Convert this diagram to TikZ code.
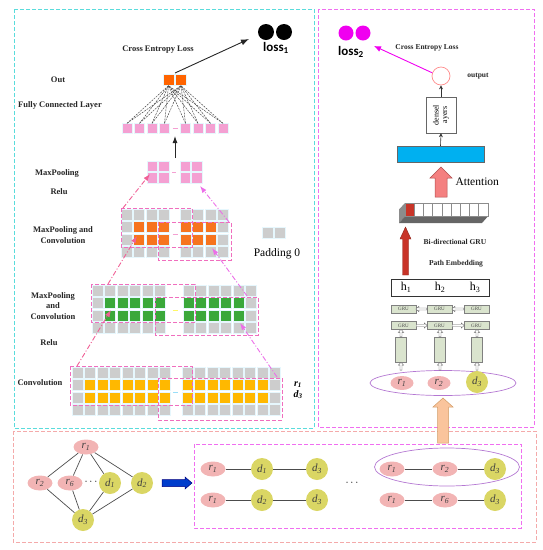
\documentclass[tikz,border=0pt]{standalone}
\usepackage{fontspec}
\setmainfont{Liberation Serif}
\newfontfamily\lossfont{Carlito}
\usetikzlibrary{arrows.meta,shapes.geometric}
\definecolor{cellgray}{RGB}{205,205,205}
\definecolor{cellpink}{RGB}{244,160,210}
\definecolor{cellorange}{RGB}{246,116,30}
\definecolor{outorange}{RGB}{255,100,0}
\definecolor{cellgreen}{RGB}{58,168,58}
\definecolor{cellyellow}{RGB}{255,184,0}
\definecolor{winpink}{RGB}{240,110,190}
\definecolor{arrowpink}{RGB}{240,96,150}
\definecolor{arrowviolet}{RGB}{236,110,232}
\definecolor{nodepink}{RGB}{242,180,180}
\definecolor{nodeyellow}{RGB}{218,214,100}
\definecolor{barblue}{RGB}{0,176,240}
\definecolor{grugreen}{RGB}{218,228,206}
\definecolor{peach}{RGB}{250,196,156}
\definecolor{attnred}{RGB}{244,128,128}
\definecolor{embred}{RGB}{200,52,40}
\definecolor{lossmagenta}{RGB}{240,0,240}
\definecolor{pathpurple}{RGB}{180,120,210}
\definecolor{framecyan}{RGB}{90,220,220}
\definecolor{framemagenta}{RGB}{240,110,240}
\definecolor{framesalmon}{RGB}{244,170,170}
\tikzset{
  lbl/.style={font=\bfseries\fontsize{8.5}{10.5}\selectfont, align=center, text=black!85},
  cell/.style={draw=cyan!10, line width=0.4pt},
  win/.style={draw=winpink, dash pattern=on 4pt off 2pt, line width=0.6pt},
  frame/.style={dash pattern=on 4pt off 2pt, line width=0.8pt},
  fcsq/.style={rectangle, fill=cellpink, draw=cyan!10, minimum size=10pt, inner sep=0pt},
  outsq/.style={rectangle, fill=outorange, draw=cyan!10, minimum size=11pt, inner sep=0pt},
  fclink/.style={draw=black!75, line width=0.45pt, dash pattern=on 2pt off 1pt},
  upleft/.style={draw=arrowpink, line width=0.9pt, dash pattern=on 5pt off 2pt on 1pt off 2pt, -{Latex[length=7pt,width=5pt]}},
  upright/.style={draw=arrowviolet, line width=0.9pt, dash pattern=on 5pt off 2pt on 1pt off 2pt, -{Latex[length=7pt,width=5pt]}},
  rnode/.style={ellipse, fill=nodepink, minimum width=25pt, minimum height=15pt, inner sep=0pt, font=\itshape\fontsize{11}{12}\selectfont, text=black!75},
  dnode/.style={circle, fill=nodeyellow, minimum size=22pt, inner sep=0pt, font=\itshape\fontsize{11}{12}\selectfont, text=black!75},
  link/.style={draw=black!70, line width=0.7pt},
  grubox/.style={rectangle, draw=black!50, fill=grugreen, minimum width=25pt, minimum height=8pt, inner sep=0pt, font=\fontsize{5}{5}\selectfont, text=black!70},
  tallbox/.style={rectangle, draw=black!50, fill=grugreen, minimum width=11pt, minimum height=25pt, inner sep=0pt},
  thinarrow/.style={draw=black!80, line width=0.6pt, -{Stealth[length=4pt,width=4pt]}},
  pics/hollow/.style={code={
    \draw[black!60, fill=white, line width=0.4pt] (0,-1) -- (#1-3,-1) -- (#1-3,-2.6) -- (#1,0) -- (#1-3,2.6) -- (#1-3,1) -- (0,1) -- cycle;}},
}
\begin{document}
\begin{tikzpicture}[x=1pt,y=-1pt]
\useasboundingbox (0,0) rectangle (543,550);

% panels
\draw[frame, framecyan] (14,9) rectangle (314,428);
\draw[frame, framemagenta] (318,9) rectangle (534,427);
\draw[frame, framesalmon] (13,431) rectangle (536,542);
\draw[frame, framemagenta, line width=0.7pt] (194,444) rectangle (521,528);

% left labels
\node[lbl] (celoss) at (158,50) {Cross Entropy Loss};
\node[lbl] (outlbl) at (58,80) {Out};
\node[lbl] (fclbl) at (60,105) {Fully Connected Layer};
\node[lbl] (mplbl) at (57,173) {MaxPooling};
\node[lbl] (relua) at (59,192) {Relu};
\node[lbl] (mpclbl) at (63,235) {MaxPooling and\\Convolution};
\node[lbl] (mpclblb) at (53,306) {MaxPooling\\and\\Convolution};
\node[lbl] (relub) at (49,343) {Relu};
\node[lbl] (convlbl) at (40,383) {Convolution};

% loss 1
\node[circle, fill=black, minimum size=16pt, inner sep=0pt] (dota) at (266,32) {};
\node[circle, fill=black, minimum size=16pt, inner sep=0pt] (dotb) at (284,32) {};
\node[font=\lossfont\bfseries\fontsize{13}{13}\selectfont] (lossa) at (276,48) {loss\textsubscript{1}};

% fully connected
\node[outsq] (out1) at (168.5,80) {};
\node[outsq] (out2) at (181,80) {};
\foreach \i/\x in {1/127,2/139.5,3/152,4/164.5,5/185.5,6/198,7/210.5,8/223}
  \node[fcsq] (fc\i) at (\x,128.5) {};
\foreach \i in {1,...,8}
  \foreach \j in {1,2}
    \draw[fclink] (fc\i.north) -- (out\j.south);
\draw[cellpink, line width=0.8pt] (172.5,128.5) -- (177.5,128.5);
\coordinate (outtop) at (175,73);
\coordinate (lossatip) at (249,39);
\draw[black!85, line width=0.9pt, -{Latex[length=8pt,width=6pt]}] (outtop) -- (lossatip);

% max pooling
\foreach \x in {147,180}
  \foreach \c in {0,1}
    \foreach \r in {0,1}
      \path[cell, fill=cellpink] (\x+\c*11.5, 161+\r*11.5) rectangle ++(10.5,10.5);
\draw[cellpink, line width=0.8pt] (172,172) -- (176,172);
\coordinate (mptop) at (175,158);
\coordinate (fcbot) at (175,136);
\draw[black!85, line width=0.9pt, -{Latex[length=7pt,width=5pt]}] (mptop) -- (fcbot);

% maxpooling and convolution (orange)
\foreach \x in {121,180}
  \foreach \c in {0,...,3}
    \foreach \r in {0,...,3}
      \path[cell, fill=cellgray] (\x+\c*12.5, 209+\r*12.5) rectangle ++(11,11);
\foreach \c in {1,2,3}
  \foreach \r in {1,2}
    \path[cell, fill=cellorange] (121+\c*12.5, 209+\r*12.5) rectangle ++(11,11);
\foreach \c in {0,1,2}
  \foreach \r in {1,2}
    \path[cell, fill=cellorange] (180+\c*12.5, 209+\r*12.5) rectangle ++(11,11);
\draw[cellpink, line width=0.8pt] (172.5,234.5) -- (177.5,234.5);
\draw[win] (121,208) rectangle (192,247);
\draw[win] (158,222) rectangle (231,260);

% maxpooling and convolution (green)
\foreach \x in {92,183}
  \foreach \c in {0,...,5}
    \foreach \r in {0,...,3}
      \path[cell, fill=cellgray] (\x+\c*12.5, 285+\r*12.5) rectangle ++(11,11);
\foreach \c in {1,...,5}
  \foreach \r in {1,2}
    \path[cell, fill=cellgreen] (92+\c*12.5, 285+\r*12.5) rectangle ++(11,11);
\foreach \c in {0,...,4}
  \foreach \r in {1,2}
    \path[cell, fill=cellgreen] (183+\c*12.5, 285+\r*12.5) rectangle ++(11,11);
\draw[yellow!60, line width=0.8pt] (172.5,310.5) -- (177.5,310.5);
\draw[win] (91,284) rectangle (195,322);
\draw[win] (155,297) rectangle (258,335);

% convolution (yellow)
\foreach \x in {72,182}
  \foreach \c in {0,...,7}
    \foreach \r in {0,...,3}
      \path[cell, fill=cellgray] (\x+\c*12.5, 367+\r*12.5) rectangle ++(11,11);
\foreach \c in {1,...,7}
  \foreach \r in {1,2}
    \path[cell, fill=cellyellow] (72+\c*12.5, 367+\r*12.5) rectangle ++(11,11);
\foreach \c in {0,...,6}
  \foreach \r in {1,2}
    \path[cell, fill=cellyellow] (182+\c*12.5, 367+\r*12.5) rectangle ++(11,11);
\draw[cyan!40, line width=0.8pt] (173,392.5) -- (178,392.5);
\draw[win] (70,366) rectangle (192,405);
\draw[win] (158,378) rectangle (282,420);

% window arrows
\coordinate (oa) at (123,208);  \coordinate (ma) at (150,174);
\coordinate (ob) at (229,222);  \coordinate (mb) at (200,186);
\coordinate (ga) at (108,284);  \coordinate (oc) at (137,236);
\coordinate (gb) at (247,296);  \coordinate (od) at (212,248);
\coordinate (ya) at (77,366);   \coordinate (gc) at (111,310);
\coordinate (yb) at (277,377);  \coordinate (gd) at (240,323);
\draw[upleft] (oa) -- (ma);
\draw[upright] (ob) -- (mb);
\draw[upleft] (ga) -- (oc);
\draw[upright] (gb) -- (od);
\draw[upleft] (ya) -- (gc);
\draw[upright] (yb) -- (gd);

% padding legend
\path[cell, fill=cellgray] (262,227) rectangle ++(11,11);
\path[cell, fill=cellgray] (274.5,227) rectangle ++(11,11);
\node[font=\fontsize{11.5}{13}\selectfont] (padlbl) at (277,254) {Padding 0};
\node[font=\bfseries\itshape\fontsize{10}{11}\selectfont, align=center] (pathlbl) at (298,390) {r\textsubscript{1}\\d\textsubscript{3}};

% right panel
\node[circle, fill=lossmagenta, minimum size=15pt, inner sep=0pt] (dotc) at (346,33) {};
\node[circle, fill=lossmagenta, minimum size=15pt, inner sep=0pt] (dotd) at (363,33) {};
\node[font=\lossfont\bfseries\fontsize{13}{13}\selectfont] (lossb) at (351,52) {loss\textsubscript{2}};
\node[lbl, font=\bfseries\fontsize{7.5}{9}\selectfont] (celossb) at (427,48) {Cross Entropy Loss};
\node[circle, draw=red!45, line width=0.7pt, minimum size=18pt, inner sep=0pt] (outc) at (441,76) {};
\node[lbl, font=\bfseries\fontsize{7.5}{9}\selectfont] (outputlbl) at (478,76) {output};
\coordinate (lossbtip) at (374,46);
\draw[lossmagenta, line width=0.9pt, -{Latex[length=7pt,width=6pt]}] (outc.160) -- (lossbtip);
\node[rectangle, draw=black!60, minimum width=30pt, minimum height=36pt, inner sep=0pt] (dense) at (441,115) {};
\node[rotate=90, font=\fontsize{8}{8.5}\selectfont, align=center] (densetxt) at (dense.center) {densel\\ayers};
\node[rectangle, draw=black!60, fill=barblue, minimum width=87pt, minimum height=16pt, inner sep=0pt] (bar) at (440.5,154) {};
\draw[thinarrow] (dense.north) -- (outc.south);
\draw[thinarrow] (bar.north) -- (dense.south);

% attention arrow
\draw[fill=attnred, draw=red!55!black!70, line width=0.5pt] (435,197) -- (435,178) -- (430,178) -- (441,167) -- (452,178) -- (447,178) -- (447,197) -- cycle;
\node[font=\fontsize{11.5}{13}\selectfont, anchor=west] (attnlbl) at (452,182) {Attention};

% embedding vector
\fill[black!45] (405,203) -- (405,216.5) -- (399,223) -- (399,209.5) -- cycle;
\fill[black!60] (405,216.5) -- (487.8,216.5) -- (482,223) -- (399,223) -- cycle;
\foreach \i in {0,...,8}
  \draw[black!45, fill=white, line width=0.4pt] (405+\i*9.2,203) rectangle ++(9.2,13.5);
\draw[black!45, fill=embred, line width=0.4pt] (405,203) rectangle ++(9.2,13.5);
\draw[fill=embred, draw=embred!70!black, line width=0.4pt] (402.5,275) -- (402.5,239) -- (400,239) -- (405.5,227) -- (411,239) -- (408.5,239) -- (408.5,275) -- cycle;
\node[lbl, font=\bfseries\fontsize{7.5}{9}\selectfont] (bigru) at (455,242) {Bi-directional GRU};
\node[lbl, font=\bfseries\fontsize{7.5}{9}\selectfont] (pathemb) at (456,264) {Path Embedding};

% GRU encoder
\node[rectangle, draw=black!80, line width=0.6pt, minimum width=98pt, minimum height=17pt, inner sep=0pt] (hbox) at (440,287.5) {};
\foreach \i/\x in {1/406,2/440,3/475}
  \node[font=\fontsize{12}{13}\selectfont] (h\i) at (\x,287.5) {h\textsubscript{\i}};
\foreach \i/\x in {1/403.5,2/439.5,3/476.5} {
  \node[grubox] (grub\i) at (\x,309) {GRU};
  \node[grubox] (gruf\i) at (\x,325.5) {GRU};
}
\foreach \i/\x in {1/401,2/440,3/477}
  \node[tallbox] (emb\i) at (\x,349.5) {};
\pic[rotate=180] at (grub2.west) {hollow=11};
\pic[rotate=180] at (grub3.west) {hollow=12};
\pic at (gruf1.east) {hollow=11};
\pic at (gruf2.east) {hollow=12};
\foreach \i in {1,2,3}
  \pic[rotate=90] at (emb\i.north) {hollow=7.5};

% input path
\node[ellipse, draw=pathpurple, line width=0.7pt, minimum width=146pt, minimum height=25pt] (pathin) at (443,383) {};
\node[rnode, minimum width=23pt, minimum height=14pt] (ir1) at (402,383) {r\textsubscript{1}};
\node[rnode, minimum width=23pt, minimum height=14pt] (ir2) at (439,383) {r\textsubscript{2}};
\node[dnode] (id3) at (477,382) {d\textsubscript{3}};
\foreach \i in {1,2,3}
  \pic[rotate=90] at (emb\i.south |- pathin.north) {hollow=8};

% peach arrow
\draw[fill=peach, draw=orange!70!black!60, line width=0.5pt] (437.5,443) -- (437.5,407) -- (433,407) -- (443,398) -- (453,407) -- (448.5,407) -- (448.5,443) -- cycle;

% graph
\node[rnode] (g1) at (86,447) {r\textsubscript{1}};
\node[rnode] (g2) at (40,483) {r\textsubscript{2}};
\node[rnode] (g6) at (70,483) {r\textsubscript{6}};
\node[font=\fontsize{11}{12}\selectfont] (gdots) at (91,482) {$\cdots$};
\node[dnode] (gd1) at (110,483) {d\textsubscript{1}};
\node[dnode] (gd2) at (142,483) {d\textsubscript{2}};
\node[dnode] (gd3) at (83,520) {d\textsubscript{3}};
\foreach \a/\b in {g1/g2, g1/g6, g1/gd1, g1/gd2, g2/gd3, g6/gd3, gd1/gd3, gd2/gd3}
  \draw[link] (\a) -- (\b);
\draw[fill=blue!70!cyan!80!black, draw=blue!50!black, line width=0.5pt] (162,479.5) -- (185,479.5) -- (185,477) -- (192,483) -- (185,489) -- (185,486.5) -- (162,486.5) -- cycle;

% paths
\node[rnode] (pa1) at (213,469) {r\textsubscript{1}};
\node[dnode] (pa2) at (262,469) {d\textsubscript{1}};
\node[dnode] (pa3) at (317,469) {d\textsubscript{3}};
\node[rnode] (pb1) at (213,500) {r\textsubscript{1}};
\node[dnode] (pb2) at (262,500) {d\textsubscript{2}};
\node[dnode] (pb3) at (317,500) {d\textsubscript{3}};
\node[font=\fontsize{11}{12}\selectfont] (pdots) at (352,483) {$\cdots$};
\node[ellipse, draw=pathpurple, line width=0.7pt, minimum width=145pt, minimum height=38pt] (psel) at (447,467) {};
\node[rnode] (pc1) at (392,469) {r\textsubscript{1}};
\node[rnode] (pc2) at (445,469) {r\textsubscript{2}};
\node[dnode] (pc3) at (495,469) {d\textsubscript{3}};
\node[rnode] (pd1) at (392,500) {r\textsubscript{1}};
\node[rnode] (pd2) at (445,500) {r\textsubscript{6}};
\node[dnode] (pd3) at (495,500) {d\textsubscript{3}};
\foreach \p in {pa,pb,pc,pd} {
  \draw[link] (\p1) -- (\p2);
  \draw[link] (\p2) -- (\p3);
}
\end{tikzpicture}
\end{document}
